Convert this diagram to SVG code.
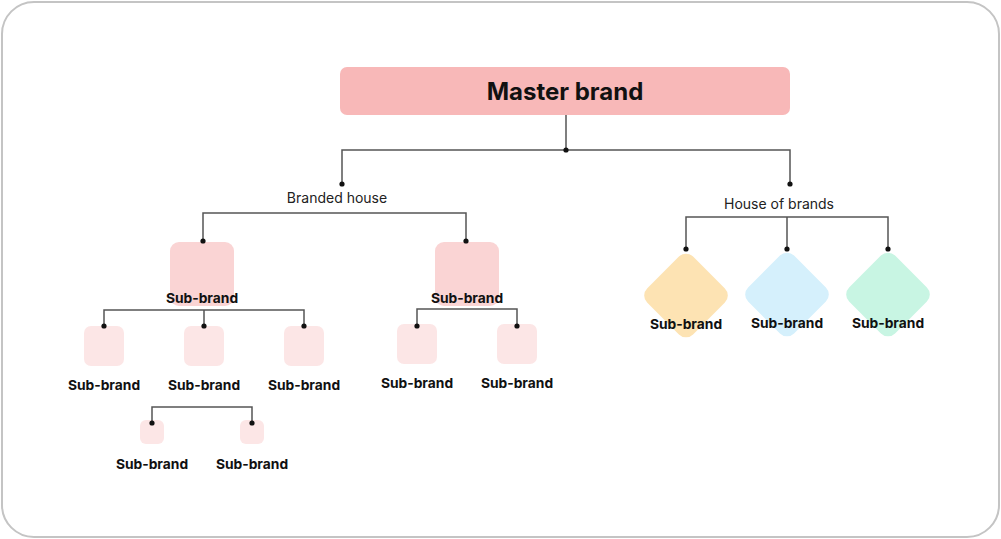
<svg xmlns="http://www.w3.org/2000/svg" width="1001" height="539" viewBox="0 0 1001 539">
<style>
.lbl{font-family:Inter,"Liberation Sans",sans-serif;font-weight:700;font-size:13.8px;fill:#111;text-anchor:middle}
.cat{font-family:Inter,"Liberation Sans",sans-serif;font-weight:400;font-size:14px;fill:#222;text-anchor:middle}
.ln{fill:none;stroke:#555;stroke-width:1.5}
.dot{fill:#111}
.b1{fill:#fad4d4}
.b2{fill:#fce6e6}
</style>
<rect x="2" y="2" width="997" height="535" rx="32" fill="#fff" stroke="#c4c4c4" stroke-width="2"/>
<g id="master">
<rect x="340" y="67" width="450" height="48" rx="7" fill="#f8b8b8"/>
<text x="565" y="100" font-family="Inter,'Liberation Sans',sans-serif" font-weight="700" font-size="24" fill="#111" text-anchor="middle">Master brand</text>
</g>
<g id="branded-house"><text class="cat" x="337" y="203">Branded house</text></g>
<g id="house-of-brands"><text class="cat" x="779" y="209">House of brands</text></g>
<g id="sb-left">
<rect class="b1" x="170" y="242" width="64" height="64" rx="9"/>
<text class="lbl" x="202" y="303">Sub-brand</text>
</g>
<g id="sb-right">
<rect class="b1" x="435" y="242" width="64" height="64" rx="9"/>
<text class="lbl" x="467" y="303">Sub-brand</text>
</g>
<g id="sb-l1"><rect class="b2" x="84" y="326" width="40" height="40" rx="7"/><text class="lbl" x="104" y="390">Sub-brand</text></g>
<g id="sb-l2"><rect class="b2" x="184" y="326" width="40" height="40" rx="7"/><text class="lbl" x="204" y="390">Sub-brand</text></g>
<g id="sb-l3"><rect class="b2" x="284" y="326" width="40" height="40" rx="7"/><text class="lbl" x="304" y="390">Sub-brand</text></g>
<g id="sb-l1a"><rect class="b2" x="140" y="420" width="24" height="24" rx="6"/><text class="lbl" x="152" y="469">Sub-brand</text></g>
<g id="sb-l1b"><rect class="b2" x="240" y="420" width="24" height="24" rx="6"/><text class="lbl" x="252" y="469">Sub-brand</text></g>
<g id="sb-r1"><rect class="b2" x="397" y="324" width="40" height="40" rx="7"/><text class="lbl" x="417" y="388">Sub-brand</text></g>
<g id="sb-r2"><rect class="b2" x="497" y="324" width="40" height="40" rx="7"/><text class="lbl" x="517" y="388">Sub-brand</text></g>
<g id="hb-1"><rect x="-32.5" y="-32.5" width="65" height="65" rx="10" fill="#fde3b3" transform="translate(686 295.5) rotate(45)"/><text class="lbl" x="686" y="329">Sub-brand</text></g>
<g id="hb-2"><rect x="-32.5" y="-32.5" width="65" height="65" rx="10" fill="#d5f0fc" transform="translate(787 294.5) rotate(45)"/><text class="lbl" x="787" y="328">Sub-brand</text></g>
<g id="hb-3"><rect x="-32.5" y="-32.5" width="65" height="65" rx="10" fill="#c8f5e3" transform="translate(888 294.5) rotate(45)"/><text class="lbl" x="888" y="328">Sub-brand</text></g>
<g id="connectors">
<path class="ln" d="M566 115V150M342 184V150H790V184"/>
<path class="ln" d="M203 241V213H466V241"/>
<path class="ln" d="M104 326V310H304V326M204 310V326"/>
<path class="ln" d="M152 423V407H252V423"/>
<path class="ln" d="M417 326V309H517V326"/>
<path class="ln" d="M686 249V217H888V249M787 217V249"/>
<circle class="dot" cx="566" cy="150" r="2.6"/>
<circle class="dot" cx="342" cy="184" r="2.6"/>
<circle class="dot" cx="790" cy="184" r="2.6"/>
<circle class="dot" cx="203" cy="241" r="2.6"/>
<circle class="dot" cx="466" cy="241" r="2.6"/>
<circle class="dot" cx="104" cy="326" r="2.6"/>
<circle class="dot" cx="204" cy="326" r="2.6"/>
<circle class="dot" cx="304" cy="326" r="2.6"/>
<circle class="dot" cx="152" cy="423" r="2.6"/>
<circle class="dot" cx="252" cy="423" r="2.6"/>
<circle class="dot" cx="417" cy="326" r="2.6"/>
<circle class="dot" cx="517" cy="326" r="2.6"/>
<circle class="dot" cx="686" cy="249" r="2.6"/>
<circle class="dot" cx="787" cy="249" r="2.6"/>
<circle class="dot" cx="888" cy="249" r="2.6"/>
</g>
</svg>
